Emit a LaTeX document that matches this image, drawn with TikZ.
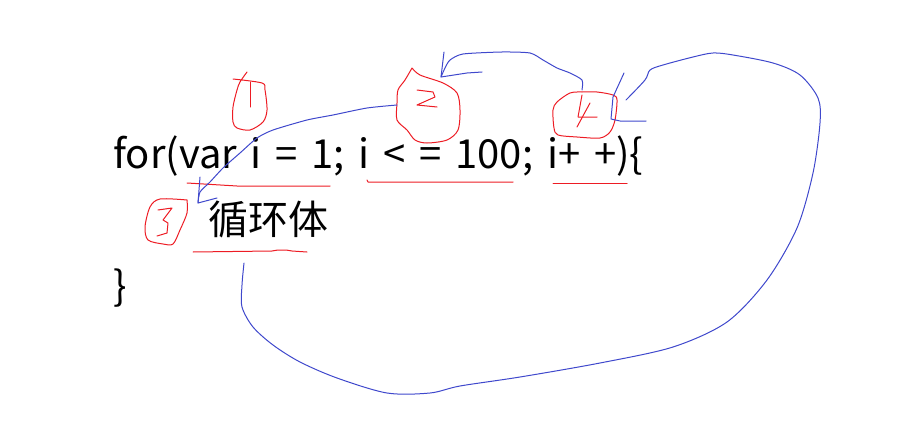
\documentclass[tikz,border=0pt]{standalone}
\usepackage{fontspec}
\setmainfont{Noto Sans CJK SC}
\definecolor{penred}{RGB}{237,28,36}
\definecolor{penblue}{RGB}{63,72,204}
\newcommand\codefont{\fontsize{40}{48}\selectfont\spaceskip=13.8pt\relax}
\tikzset{
  codeline/.style={anchor=base west, inner sep=0pt, font=\codefont},
  redpen/.style={penred, line width=1pt, line join=round, line cap=round},
  bluepen/.style={penblue, line width=1pt, line join=round, line cap=round}
}
\begin{document}
\begin{tikzpicture}[x=1pt, y=-1pt]
  \useasboundingbox (0,0) rectangle (915,428);

  % the code
  \node[codeline] (head) at (113,168) {for(var i = 1; i < = 100; i+ +)\{};
  \node[codeline] (body) at (208,234) {循环体};
  \node[codeline] (close) at (113,300) {\}};

  % red underlines
  \draw[redpen] (187,183) -- (237,186) -- (330,186);
  \draw[redpen] (367,180) -- (368,182) -- (513,182);
  \draw[redpen] (553,183) -- (627,183);
  \draw[redpen] (193,252) -- (272,251) -- (278,250) -- (286,250) -- (292,251) -- (307,252);

  % red circled numbers
  \draw[redpen] plot[smooth, tension=0.5] coordinates {(247,72) (240,82) (237,90) (233,107) (233,122) (237,128) (250,130) (263,122) (267,110) (265,90) (262,83) (233,79)};
  \draw[redpen] (250,82) -- (250,107);

  \draw[redpen] plot[smooth, tension=0.5] coordinates {(412,68) (405,80) (398,90) (397,103) (397,120) (407,130) (415,140) (427,143) (447,140) (458,130) (460,110) (457,93) (443,83) (420,75) (412,68)};
  \draw[redpen] (417,90) -- (433,92) -- (435,97) -- (417,105) -- (437,107);

  \draw[redpen] plot[smooth, tension=0.5] coordinates {(187,200) (160,199) (150,207) (145,227) (148,240) (163,244) (173,244) (180,230) (187,213) (187,200)};
  \draw[redpen] (158,210) -- (172,208) -- (163,220) -- (168,223) -- (167,233) -- (157,236);

  \draw[redpen] plot[smooth, tension=0.5] coordinates {(582,92) (570,93) (557,102) (553,110) (554,128) (558,135) (577,137) (600,138) (610,132) (615,120) (617,100) (613,95) (597,92) (582,92)};
  \draw[redpen] (582,95) -- (578,117) -- (597,117);
  \draw[redpen] (590,103) -- (577,127);

  % blue arrow: 2 -> 3
  \coordinate (tipA) at (198,203);
  \draw[bluepen] plot[smooth, tension=0.4] coordinates {(397,105) (367,108) (333,115) (307,120) (273,130) (257,138) (240,153) (223,168) (210,182) (200,192) (198,203)};
  \draw[bluepen] (200,177) -- (tipA) -- (217,198);

  % blue arrow: 4 -> 2
  \coordinate (tipB) at (441,77);
  \draw[bluepen] plot[smooth, tension=0.4] coordinates {(582,90) (582,80) (570,73) (557,68) (543,60) (530,53) (502,52) (463,54) (450,60) (445,68) (441,77)};
  \draw[bluepen] (444,52) -- (tipB) -- (467,73) -- (482,72);

  % blue loop: 3 -> 4
  \coordinate (tipC) at (611,119);
  \draw[bluepen] plot[smooth, tension=0.5] coordinates {(244,263) (242,285) (242,307) (253,327) (273,345) (300,362) (337,378) (387,393) (430,393) (460,386) (520,377) (600,363) (673,347) (727,322) (767,280) (797,228) (813,173) (820,123) (818,98) (800,75) (773,63) (733,55) (713,53) (693,57) (663,65) (650,70) (645,80) (626,100)};
  \draw[bluepen] (624,73) -- (613,97) -- (tipC) -- (620,121) -- (646,121);
\end{tikzpicture}
\end{document}
